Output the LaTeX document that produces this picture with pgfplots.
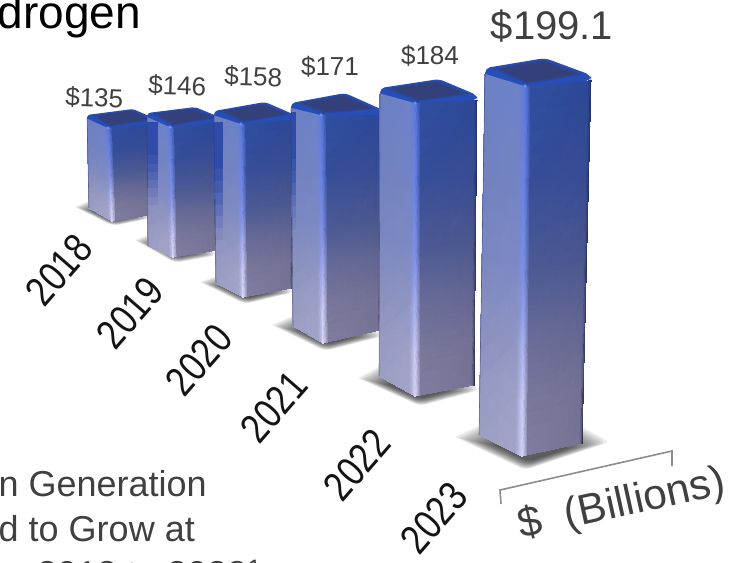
\documentclass[border=0pt]{standalone}
\usepackage{fontspec}
\setmainfont{Liberation Sans}
\usepackage{pgfplots}
\usepackage{pgfplotstable}
\pgfplotsset{compat=1.18}

\newcommand\fs[1]{\fontsize{#1bp}{#1bp}\selectfont}
\definecolor{labelgray}{RGB}{64,64,64}
\definecolor{yeargray}{RGB}{20,20,20}
\definecolor{rimblue}{RGB}{38,78,182}
\definecolor{midtop}{RGB}{44,70,150}
\definecolor{topface}{RGB}{52,64,122}
\definecolor{cornerblue}{RGB}{110,145,240}
\definecolor{overlapblue}{RGB}{28,58,160}
\definecolor{edgenavy}{RGB}{35,45,95}
\definecolor{bracketgray}{RGB}{140,140,140}

% Bars on the picture plane. value and scale give the height of the front edge:
% the nearer a bar stands, the more pixels one billion dollars takes up.
\pgfplotstableread{
year value scale xLt xCt xRt xLb xCb xRb yLb yCb yRb dL  dR  xB  dB  lx  ly  lsize lrot
2018 135   0.689 87  108 158 89  112 155 208 221 214 -13 -8  133 -19 94  107 26    -2
2019 146   0.890 147 170 222 148 173 218 246 257 250 -14 -9  195 -20 177 95  26    -2
2020 158   1.095 214 241 295 216 243 292 283 297 288 -13 -9  265 -22 253 86  26    -2
2021 171   1.333 291 321 383 293 323 380 326 343 330 -12 -5  345 -22 330 76  26    0
2022 184   1.592 380 415 477 379 415 474 376 396 385 -15 -8  439 -24 430 65  26    0
2023 199.1 1.858 485 525 591 479 522 582 435 456 443 -18 -11 545 -28 552 40  40    0
}\bars

% Ground shadows: left, front and right tips, and the far side behind the bar.
\pgfplotstableread{
xl  yl  xb  yb  xr  yr  yt
75  207 113 226 152 218 190
135 240 175 263 218 255 225
200 282 245 304 295 292 265
272 325 325 351 384 336 300
358 378 420 406 480 390 345
455 437 525 470 610 442 400
}\shadows

% Colour of the side faces: six columns across the bar, six rows down.
\def\setrow#1#2#3#4#5#6#7{%
  \expandafter\def\csname c#1-0\endcsname{#2}%
  \expandafter\def\csname c#1-1\endcsname{#3}%
  \expandafter\def\csname c#1-2\endcsname{#4}%
  \expandafter\def\csname c#1-3\endcsname{#5}%
  \expandafter\def\csname c#1-4\endcsname{#6}%
  \expandafter\def\csname c#1-5\endcsname{#7}}
\setrow{0}{108,128,195}{110,130,200}{ 92,122,225}{48,78,160}{44,72,150}{30,50,110}
\setrow{1}{114,130,192}{116,132,195}{105,130,230}{54,78,152}{56,76,148}{35,50,105}
\setrow{2}{124,135,190}{126,138,195}{125,145,235}{78,90,148}{76,88,142}{40,50,95}
\setrow{3}{140,145,190}{145,150,195}{170,180,245}{108,110,152}{102,104,146}{50,55,95}
\setrow{4}{150,153,192}{158,160,198}{205,205,250}{122,120,155}{116,114,148}{50,55,85}
\setrow{5}{155,158,195}{162,163,200}{215,215,250}{128,125,160}{118,116,148}{45,50,75}

\def\rowpos#1{\ifcase#1 0\or 0.25\or 0.5\or 0.7\or 0.85\or 1\fi}
\def\wL#1{\ifcase#1 1\or 0.15\or 0\or 0\or 0\or 0\fi}
\def\wC#1{\ifcase#1 0\or 0.85\or 1\or 0.91\or 0.04\or 0\fi}
\def\wR#1{\ifcase#1 0\or 0\or 0\or 0.09\or 0.96\or 1\fi}

% Side faces, top rim, corner glint and value label of one bar.
\newcommand\drawbar[1]{%
  \foreach \n in {value,scale,xLt,xCt,xRt,xLb,xCb,xRb,yLb,yCb,yRb,dL,dR,xB,dB,lx,ly,lsize,lrot}{%
    \pgfplotstablegetelem{#1}{\n}\of\bars
    \global\expandafter\let\csname\n\endcsname\pgfplotsretval}%
  \pgfmathsetmacro\yCt{\yCb-\scale*\value}%
  \pgfmathsetmacro\yLt{\yCt+\dL}%
  \pgfmathsetmacro\yRt{\yCt+\dR}%
  \pgfmathsetmacro\yBk{\yCt+\dB}%
  % the side edges start a little below the rim, whose corners are rounded
  \pgfmathsetmacro\inset{2+2*\scale}%
  \pgfmathsetmacro\yLs{\yLt+\inset}%
  \pgfmathsetmacro\yRs{\yRt+\inset}%
  \foreach \i in {0,...,5}{%
    \foreach \j in {0,...,5}{%
      \pgfmathsetmacro\tt{\rowpos\j}%
      \pgfmathsetmacro\xtop{\wL\i*\xLt+\wC\i*\xCt+\wR\i*\xRt}%
      \pgfmathsetmacro\xbot{\wL\i*\xLb+\wC\i*\xCb+\wR\i*\xRb}%
      \pgfmathsetmacro\ytop{\wL\i*\yLs+\wC\i*\yCt+\wR\i*\yRs}%
      \pgfmathsetmacro\ybot{\wL\i*\yLb+\wC\i*\yCb+\wR\i*\yRb}%
      \pgfmathsetmacro\vx{\xtop+\tt*(\xbot-\xtop)}%
      \pgfmathsetmacro\vy{\ytop+\tt*(\ybot-\ytop)}%
      \expandafter\xdef\csname v\i-\j\endcsname{(\vx,\vy) [rgb255=\csname c\j-\i\endcsname]}%
    }%
  }%
  \gdef\meshcoords{}%
  \foreach \i in {0,...,4}{%
    \foreach \j in {0,...,4}{%
      \pgfmathtruncatemacro\ii{\i+1}%
      \pgfmathtruncatemacro\jj{\j+1}%
      \xdef\meshcoords{\meshcoords
        \csname v\i-\j\endcsname\space \csname v\ii-\j\endcsname\space
        \csname v\ii-\jj\endcsname\space \csname v\i-\jj\endcsname\space}%
    }%
  }%
  \edef\tmp{\noexpand\addplot[patch,patch type=rectangle,shader=interp,
      mesh/color input=explicit] coordinates {\meshcoords};}\tmp
  % thin dark line down the left edge
  \edef\tmp{\noexpand\addplot[draw=edgenavy,draw opacity=0.5,line width=0.6bp]
      coordinates {(\xLt,\yLs) (\xLb,\yLb)};}\tmp
  % the bright rim wraps over the front edges and down the two sides
  \pgfmathsetmacro\rimrad{1.5+2*\scale}%
  \edef\tmp{\noexpand\addplot[fill=rimblue,draw=none,rounded corners=\rimrad bp]
    coordinates {(\xLt,\yLs) (\xLt,\yLt) (\xB,\yBk) (\xRt,\yRt) (\xRt,\yRs) (\xCt,\yCt)};}\tmp
  % top face, inset towards its middle
  \pgfmathsetmacro\cx{(\xLt+\xRt)/2}%
  \pgfmathsetmacro\cy{(\yBk+\yCt)/2-1}%
  \foreach \f/\col/\rr in {0.86/midtop/0.7,0.74/topface/0.5}{%
    \pgfmathsetmacro\pLx{\cx+\f*(\xLt-\cx)}\pgfmathsetmacro\pLy{\cy+\f*(\yLt-\cy)}%
    \pgfmathsetmacro\pBx{\cx+\f*(\xB-\cx)}\pgfmathsetmacro\pBy{\cy+\f*(\yBk-\cy)}%
    \pgfmathsetmacro\pRx{\cx+\f*(\xRt-\cx)}\pgfmathsetmacro\pRy{\cy+\f*(\yRt-\cy)}%
    \pgfmathsetmacro\pCx{\cx+\f*(\xCt-\cx)}\pgfmathsetmacro\pCy{\cy+\f*(\yCt-\cy)}%
    \pgfmathsetmacro\rad{\rr*\rimrad}%
    \edef\tmp{\noexpand\addplot[fill=\col,draw=none,rounded corners=\rad bp]
      coordinates {(\pLx,\pLy) (\pBx,\pBy) (\pRx,\pRy) (\pCx,\pCy)};}%
    \global\let\gtmp\tmp
    \gtmp
  }%
  \edef\tmp{\noexpand\addplot[only marks,color=cornerblue,mark=*,mark size=1.4bp]
      coordinates {(\xCt,\yCt)};}\tmp
  \edef\tmp{\noexpand\node[text=labelgray,anchor=base,inner sep=0pt,rotate=\lrot]
      at (axis cs:\lx,\ly) {\noexpand\fs{\lsize}\noexpand\$\value};}\tmp
}

% Ground shadow built from nested translucent layers.
\newcommand\drawshadow[1]{%
  \foreach \n in {xl,yl,xb,yb,xr,yr,yt}{%
    \pgfplotstablegetelem{#1}{\n}\of\shadows
    \global\expandafter\let\csname\n\endcsname\pgfplotsretval}%
  \pgfmathsetmacro\cx{(\xl+\xr)/2}%
  \pgfmathsetmacro\cy{(\yl+\yb)/2}%
  \foreach \f in {1,0.96,0.92,0.88,0.84,0.80,0.76,0.72,0.68,0.64,0.6,0.56,0.52,0.48}{%
    \pgfmathsetmacro\aX{\cx+\f*(\xl-\cx)}\pgfmathsetmacro\aY{\cy+\f*(\yl-\cy)}%
    \pgfmathsetmacro\bX{\cx+\f*(\xb-\cx)}\pgfmathsetmacro\bY{\cy+\f*(\yb-\cy)}%
    \pgfmathsetmacro\dX{\cx+\f*(\xr-\cx)}\pgfmathsetmacro\dY{\cy+\f*(\yr-\cy)}%
    \pgfmathsetmacro\eY{\cy+\f*(\yt-\cy)}%
    \edef\tmp{\noexpand\addplot[fill=black,fill opacity=0.07,draw=none,rounded corners=6bp]
      coordinates {(\aX,\aY) (\bX,\bY) (\dX,\dY) (\cx,\eY)};}%
    \global\let\gtmp\tmp
    \gtmp
  }%
}

% Blue band left on a bar by the neighbour standing behind it, fading downwards.
\newcommand\overlapband[4]{%
  \foreach \a/\b/\op in {0/0.4/0.75,0.4/0.5/0.65,0.5/0.6/0.55,0.6/0.7/0.42,0.7/0.8/0.3,0.8/0.9/0.18,0.9/1/0.08}{%
    \pgfmathsetmacro\ya{#3+\a*(#4-#3)}\pgfmathsetmacro\yb{#3+\b*(#4-#3)}%
    \edef\tmp{\noexpand\addplot[fill=overlapblue,fill opacity=\op,draw=none]
      coordinates {(#1,\ya) (#2,\ya) (#2,\yb) (#1,\yb)};}%
    \global\let\gtmp\tmp
    \gtmp
  }%
}

\begin{document}
\begin{tikzpicture}
\useasboundingbox (0,0) rectangle (744bp,563bp);
\begin{axis}[
  at={(0,0)},anchor=south west,
  scale only axis,width=744bp,height=563bp,
  xmin=0,xmax=744,ymin=0,ymax=563,y dir=reverse,
  hide axis,clip=false]

\drawshadow{0}\drawshadow{1}\drawshadow{2}\drawshadow{3}\drawshadow{4}\drawshadow{5}

\drawbar{0}
\drawbar{1}
\overlapband{147}{158}{122}{205}
\drawbar{2}
\overlapband{214}{223}{122}{240}
\drawbar{3}
\overlapband{291}{296}{112}{230}
\drawbar{4}
\drawbar{5}

% the bracket over the unit caption
\addplot[draw=bracketgray,line width=1.6bp] coordinates {(501,504) (500,490) (672,451) (672,466)};

\node[text=black,anchor=base east,inner sep=0pt] at (axis cs:141,29) {\fs{46}drogen};

% year captions lie on the ground plane, so they are foreshortened along their length
\tikzset{yearcap/.style={text=yeargray,inner sep=0pt,rotate=49,xscale=0.93,yscale=1.12}}
\node[yearcap] at (axis cs:59,270) {\fs{37}2018};
\node[yearcap] at (axis cs:130,313) {\fs{37}2019};
\node[yearcap] at (axis cs:199,360) {\fs{37}2020};
\node[yearcap] at (axis cs:274,407) {\fs{37}2021};
\node[yearcap] at (axis cs:357,465) {\fs{37}2022};
\node[yearcap] at (axis cs:434,518) {\fs{37}2023};

\node[text=labelgray,inner sep=0pt,rotate=12.5] at (axis cs:622,505) {\fs{42.5}\$\ \ (Billions)};

\node[text=labelgray,anchor=base east,inner sep=0pt] at (axis cs:207,496) {\fs{36}n Generation};
\node[text=labelgray,anchor=base east,inner sep=0pt] at (axis cs:195,541) {\fs{36}d to Grow at};
\node[text=labelgray,anchor=base east,inner sep=0pt] at (axis cs:262,586) {\fs{36}2018 to 2023\textsuperscript{1}};
\end{axis}
\end{tikzpicture}
\end{document}
